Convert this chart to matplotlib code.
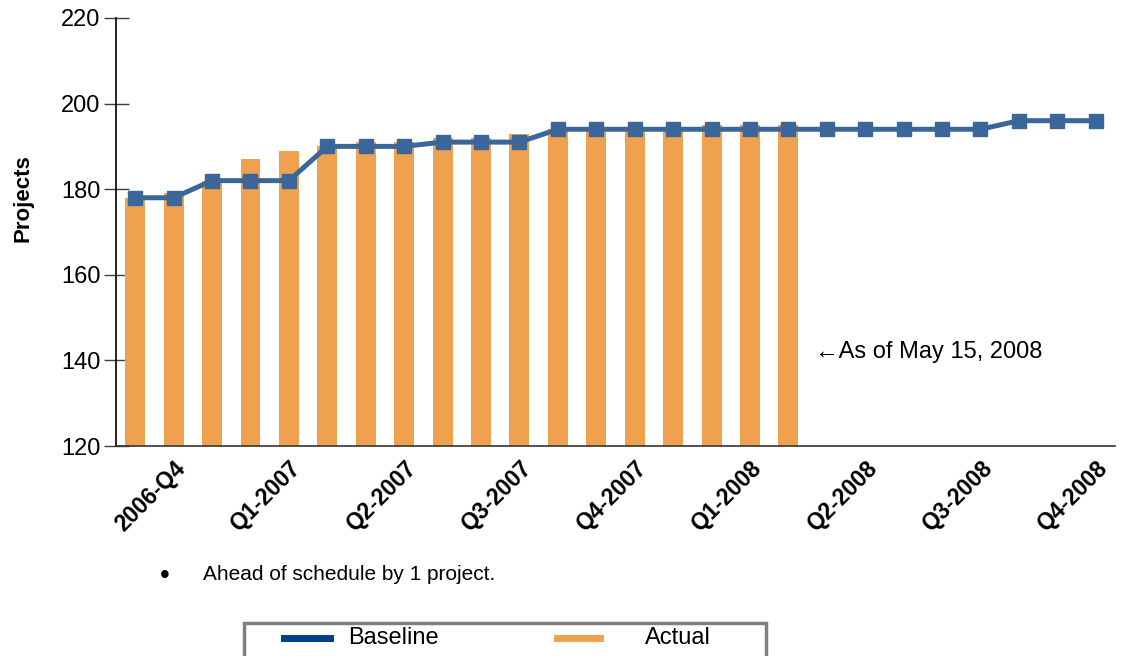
import matplotlib.pyplot as plt
from matplotlib.lines import Line2D
from matplotlib.patches import Rectangle

plt.rcParams['font.family'] = ['Liberation Sans', 'DejaVu Sans']

# monthly points, Sep 2006 .. Oct 2008
baseline = [178, 178, 182, 182, 182, 190, 190, 190, 191, 191, 191, 194, 194,
            194, 194, 194, 194, 194, 194, 194, 194, 194, 194, 196, 196, 196]
actual = [178, 179, 182, 187, 189, 190, 191, 191, 192, 192, 193, 194, 194,
          194, 194, 195, 195, 195]
tick_idx = [1, 4, 7, 10, 13, 16, 19, 22, 25]
tick_labels = ['2006-Q4', 'Q1-2007', 'Q2-2007', 'Q3-2007', 'Q4-2007',
               'Q1-2008', 'Q2-2008', 'Q3-2008', 'Q4-2008']

bar_color = '#F0A150'
line_color = '#3A6699'

fig = plt.figure(figsize=(11.21, 6.56), dpi=100)
ax = fig.add_axes([0.1035, 0.3201, 0.8911, 0.6525])

ax.bar(range(len(actual)), actual, width=0.52, color=bar_color, zorder=2)
ax.plot(range(len(baseline)), baseline, color=line_color, lw=3.6,
        marker='s', markersize=10, zorder=3)

ax.set_xlim(-0.5, 25.5)
ax.set_ylim(120, 220)
ax.set_yticks([120, 140, 160, 180, 200, 220])
ax.tick_params(axis='y', direction='inout', length=18, width=1,
               color='#404040', labelsize=17, pad=2)
ax.set_xticks(tick_idx)
ax.set_xticklabels(tick_labels, rotation=45, ha='right', va='top',
                   rotation_mode='anchor', fontsize=16.5, fontweight='bold')
ax.tick_params(axis='x', length=0, pad=8)

for s in ['top', 'right']:
    ax.spines[s].set_visible(False)
ax.spines['left'].set_linewidth(1.2)
ax.spines['bottom'].set_linewidth(1.2)
ax.spines['bottom'].set_color('#333333')

ax.set_ylabel('Projects', fontsize=16, fontweight='bold')
ax.yaxis.set_label_coords(-0.083, 0.58)

ax.text(17.7, 142, '\u2190As of May 15, 2008', fontsize=17, ha='left', va='center')

# note under the chart
fig.text(165 / 1121, 1 - 576 / 656, '\u2022', fontsize=20, ha='center', va='center')
fig.text(203 / 1121, 1 - 575 / 656, 'Ahead of schedule by 1 project.', fontsize=15,
         ha='left', va='center')

# legend box (cut off at the bottom of the figure)
fig.add_artist(Rectangle((244 / 1121, -0.05), (766 - 244) / 1121, 0.05 + (656 - 623) / 656,
                         transform=fig.transFigure, fill=False, edgecolor='#808080', lw=2.5))
ly = 1 - 638 / 656
fig.add_artist(Line2D([284 / 1121, 330 / 1121], [ly, ly], color='#003F87', lw=5,
                      transform=fig.transFigure))
fig.text(348 / 1121, ly, 'Baseline', fontsize=17, ha='left', va='center')
fig.add_artist(Line2D([557 / 1121, 600 / 1121], [ly, ly], color=bar_color, lw=5,
                      transform=fig.transFigure))
fig.text(645 / 1121, ly, 'Actual', fontsize=17, ha='left', va='center')

fig.savefig('out.png', dpi=100)
